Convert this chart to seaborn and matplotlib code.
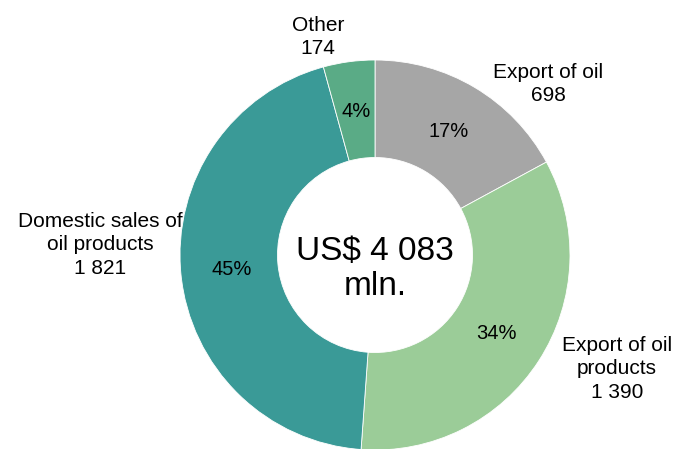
import matplotlib
matplotlib.use("Agg")
import matplotlib.pyplot as plt
import seaborn as sns

# Revenue structure, US$ mln
categories = ["Export of oil", "Export of oil\nproducts", "Domestic sales of\noil products", "Other"]
values = [698, 1390, 1821, 174]
colors = ["#a6a6a6", "#9bcc98", "#3a9a97", "#5aab86"]
total_label = "US$ 4 083\nmln."

sns.set_theme(style="white")
plt.rcParams["font.family"] = ["Liberation Sans Narrow", "Liberation Sans", "DejaVu Sans"]

W, H = 673, 449
fig = plt.figure(figsize=(W / 100, H / 100), dpi=100)
ax = fig.add_axes([0, 0, 1, 1])
ax.set_aspect("equal")
ax.axis("off")

cx, cy, R = 375, H - 255, 195
palette = sns.color_palette(colors)

wedges, texts, autotexts = ax.pie(
    values,
    colors=palette,
    startangle=90,
    counterclock=False,
    center=(cx, cy),
    radius=R,
    autopct="%.0f%%",
    pctdistance=0.74,
    wedgeprops=dict(width=R * 0.5, edgecolor="white", linewidth=0.6),
    textprops=dict(fontsize=14.5, color="black"),
)
ax.set_xlim(0, W)
ax.set_ylim(0, H)


def fmt(v):
    return f"{v:,}".replace(",", " ")


# outer label anchors (pixel coords from top-left)
label_pos = [(548, 84), (617, 369), (100, 245), (318, 37)]
for name, v, (x, y) in zip(categories, values, label_pos):
    ax.text(x, H - y, f"{name}\n{fmt(v)}", ha="center", va="center",
            fontsize=15, linespacing=1.3, color="black")

ax.text(cx, H - 269, total_label, ha="center", va="center",
        fontsize=24, linespacing=1.2, color="black")

fig.savefig("out.png", dpi=100, facecolor="white")
